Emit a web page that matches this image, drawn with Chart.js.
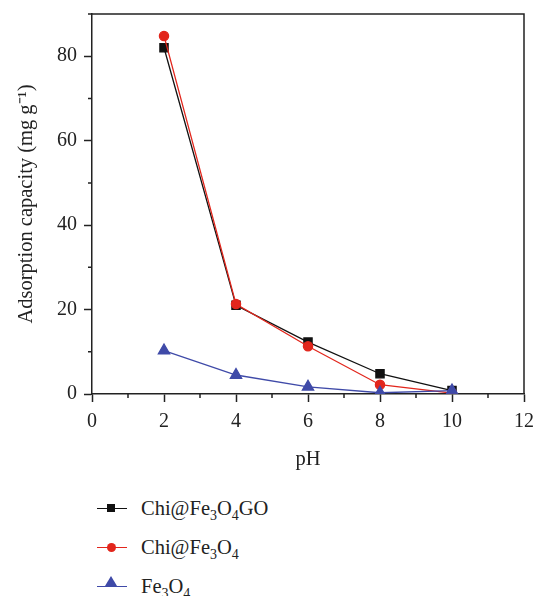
<!DOCTYPE html>
<html>
<head>
<meta charset="utf-8">
<script src="https://cdn.jsdelivr.net/npm/chart.js@4.4.0/dist/chart.umd.min.js"></script>
<style>
  html, body { margin: 0; padding: 0; background: #fff; overflow: hidden; }
  #wrap { position: relative; width: 535px; height: 596px; }
  #chart { position: absolute; left: 0; top: 0; }
  .leg { position: absolute; left: 0; height: 30px; font-family: "Liberation Serif", serif; font-size: 20.5px; color: #222; }
  .leg .ln { position: absolute; left: 97px; width: 30px; top: 14px; height: 0; border-top: 1.3px solid; }
  .leg .txt { position: absolute; left: 141px; top: 3px; white-space: nowrap; }
  .leg sub { font-size: 14px; vertical-align: -5px; line-height: 0; }
  .mk { position: absolute; }
</style>
</head>
<body>
<div id="wrap">
  <canvas id="chart" width="535" height="480"></canvas>
  <div class="leg" style="top:494px">
    <div class="ln" style="border-color:#111"></div>
    <div class="mk" style="left:107px;top:10px;width:8px;height:8px;background:#111"></div>
    <div class="txt">Chi@Fe<sub>3</sub>O<sub>4</sub>GO</div>
  </div>
  <div class="leg" style="top:533px">
    <div class="ln" style="border-color:#e2261c"></div>
    <div class="mk" style="left:107px;top:10px;width:9px;height:9px;border-radius:50%;background:#e2261c"></div>
    <div class="txt">Chi@Fe<sub>3</sub>O<sub>4</sub></div>
  </div>
  <div class="leg" style="top:572px">
    <div class="ln" style="border-color:#3f4aa8"></div>
    <div class="mk" style="left:105px;top:4px;width:0;height:0;border-left:6px solid transparent;border-right:6px solid transparent;border-bottom:10px solid #3f4aa8"></div>
    <div class="txt">Fe<sub>3</sub>O<sub>4</sub></div>
  </div>
</div>
<script>
const pH = [2, 4, 6, 8, 10];
const chiFe3O4GO = [82.0, 21.0, 12.3, 4.8, 0.8];
const chiFe3O4 = [84.8, 21.3, 11.3, 2.2, 0.2];
const fe3O4 = [10.3, 4.5, 1.7, 0.3, 0.8];
const xMinorTicks = [1, 3, 5, 7, 9, 11];
const yMinorTicks = [10, 30, 50, 70, 90];

const axisColor = '#222';
const serif = '"Liberation Serif", "Times New Roman", serif';

// minor ticks + box frame
const framePlugin = {
  id: 'frame',
  afterDraw(chart) {
    const { ctx, chartArea: a, scales } = chart;
    ctx.save();
    ctx.strokeStyle = axisColor;
    ctx.lineWidth = 1.5;
    ctx.beginPath();
    ctx.moveTo(a.left, a.top);
    ctx.lineTo(a.right, a.top);
    ctx.lineTo(a.right, a.bottom);
    xMinorTicks.forEach(v => {
      const x = scales.x.getPixelForValue(v);
      ctx.moveTo(x, a.bottom);
      ctx.lineTo(x, a.bottom + 4);
    });
    yMinorTicks.forEach(v => {
      const y = scales.y.getPixelForValue(v);
      ctx.moveTo(a.left, y);
      ctx.lineTo(a.left - 4, y);
    });
    ctx.stroke();
    ctx.restore();
  }
};

function toPoints(vals) {
  return vals.map((v, i) => ({ x: pH[i], y: v }));
}

new Chart(document.getElementById('chart'), {
  type: 'line',
  data: {
    datasets: [
      {
        label: 'Chi@Fe3O4GO', data: toPoints(chiFe3O4GO), order: 3,
        borderColor: '#111', backgroundColor: '#111', borderWidth: 1.3,
        pointStyle: 'rect', pointRadius: 5.8, pointHoverRadius: 5.8
      },
      {
        label: 'Chi@Fe3O4', data: toPoints(chiFe3O4), order: 2,
        borderColor: '#e2261c', backgroundColor: '#e2261c', borderWidth: 1.3,
        pointStyle: 'circle', pointRadius: 4.6, pointHoverRadius: 4.6
      },
      {
        label: 'Fe3O4', data: toPoints(fe3O4), order: 1,
        borderColor: '#3f4aa8', backgroundColor: '#3f4aa8', borderWidth: 1.3,
        pointStyle: 'triangle', pointRadius: 6.5, pointHoverRadius: 6.5
      }
    ]
  },
  options: {
    responsive: false,
    animation: false,
    layout: { padding: { left: 0, right: 11, top: 14, bottom: 0 } },
    plugins: { legend: { display: false }, tooltip: { enabled: false } },
    scales: {
      x: {
        type: 'linear', min: 0, max: 12,
        afterFit: s => { s.height = 86; s.paddingLeft = 0; s.paddingRight = 0; },
        border: { color: axisColor, width: 1.5 },
        grid: { drawOnChartArea: false, drawTicks: true, tickLength: 8, color: axisColor, tickWidth: 1.5 },
        ticks: { stepSize: 2, padding: 8, color: '#222', font: { family: serif, size: 20 } },
        title: { display: true, text: 'pH', color: '#222', font: { family: serif, size: 20.5 }, padding: { top: 0, bottom: 8 } }
      },
      y: {
        type: 'linear', min: 0, max: 90,
        afterFit: s => { s.width = 92; s.paddingTop = 0; s.paddingBottom = 0; },
        afterBuildTicks: s => { s.ticks = s.ticks.filter(t => t.value % 20 === 0); },
        border: { color: axisColor, width: 1.5 },
        grid: { drawOnChartArea: false, drawTicks: true, tickLength: 8, color: axisColor, tickWidth: 1.5 },
        ticks: { stepSize: 20, padding: 7, color: '#222', font: { family: serif, size: 20 } },
        title: { display: true, text: 'Adsorption capacity (mg g\u207B\u00B9)', color: '#222', font: { family: serif, size: 20.5 }, padding: { top: 14, bottom: 0 } }
      }
    }
  },
  plugins: [framePlugin]
});
</script>
</body>
</html>
